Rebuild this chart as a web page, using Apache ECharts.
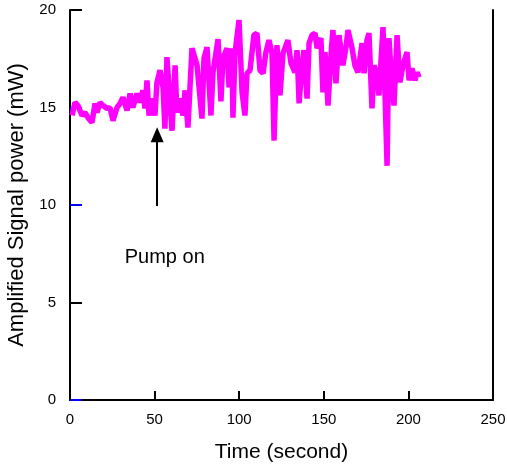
<!DOCTYPE html>
<html>
<head>
<meta charset="utf-8">
<script src="https://cdn.jsdelivr.net/npm/echarts@6/dist/echarts.min.js"></script>
<style>html,body{margin:0;padding:0;background:#fff}#c{width:507px;height:468px}</style>
</head>
<body>
<div id="c"></div>
<script>
var timeSec = [1.2,3.0,4.7,7.1,8.9,10.6,13.0,14.8,16.0,17.7,19.5,21.9,23.6,25.4,27.8,29.6,31.3,33.7,35.5,37.2,39.6,41.4,43.1,44.3,45.5,46.7,48.5,50.2,51.4,53.2,55.0,56.1,57.3,59.1,60.3,62.1,63.2,65.0,66.8,68.0,69.7,72.1,75.1,78.0,79.2,81.0,83.3,84.5,87.5,89.2,90.4,92.8,94.0,95.7,96.3,97.5,99.9,101.7,103.4,104.6,106.4,108.7,110.5,112.3,114.1,115.8,117.6,119.4,120.6,122.3,124.1,125.9,128.8,130.6,133.0,134.2,135.4,137.1,138.3,140.1,141.3,143.0,144.8,146.0,148.3,149.5,150.7,152.5,154.3,155.4,157.2,159.0,161.3,163.1,164.3,166.7,168.4,170.2,172.6,173.8,175.5,176.7,178.5,179.7,181.4,182.6,185.0,186.2,187.4,188.5,190.3,191.5,193.3,195.0,196.8,199.2,200.4,202.1,203.9,205.1,206.3];
var powerMW = [14.59,15.26,15.10,14.59,14.74,14.48,14.23,15.21,14.74,15.26,15.10,14.95,15.0,14.33,15.0,15.21,15.52,14.85,15.72,15.0,15.72,15.26,15.88,14.95,16.39,14.59,15.46,14.59,16.29,16.91,16.03,13.92,17.58,15.26,13.81,17.16,14.74,15.46,14.59,15.88,13.97,18.04,17.16,14.43,17.53,18.09,14.59,16.80,18.51,15.31,17.53,18.04,16.03,18.04,14.48,17.78,19.48,15.77,14.59,16.75,16.91,18.71,18.81,16.91,16.75,17.84,18.45,17.78,13.30,18.20,15.62,17.78,18.45,17.27,16.80,17.94,15.21,17.16,17.94,15.46,18.30,18.71,18.81,18.04,18.56,15.77,17.84,15.10,17.78,18.97,16.24,18.71,17.16,18.09,18.97,18.04,17.16,16.80,18.30,16.75,18.45,18.81,14.95,17.16,16.65,15.62,19.12,15.62,12.01,18.56,16.13,15.10,18.71,16.29,17.16,17.84,16.39,17.01,16.39,16.80,16.55];
var xTicks = [0,50,100,150,200,250];
var blackYTicks = [5,20];
var blueYTicks = [0,10,15];
var arrowFrom = [51.5, 9.95];
var arrowTo = [51.5, 13.6];
var labelPos = [56, 7.3];
var labelText = 'Pump on';

var data = timeSec.map(function(t,i){return [t, powerMW[i]];});
var font = 'Liberation Sans, Arial, sans-serif';
var chart = echarts.init(document.getElementById('c'));
chart.setOption({
  animation:false,
  backgroundColor:'#fff',
  grid:{left:70,right:14,top:10,bottom:68,containLabel:false,outerBoundsMode:'none'},
  xAxis:{
    type:'value',min:0,max:250,interval:50,
    name:'Time (second)',nameLocation:'middle',nameGap:42,
    nameTextStyle:{fontFamily:font,fontSize:21,color:'#000'},
    axisLine:{lineStyle:{color:'#000',width:2}},
    axisTick:{inside:true,length:9,lineStyle:{color:'#000',width:2}},
    axisLabel:{fontFamily:font,fontSize:15,color:'#000',margin:12},
    splitLine:{show:false}
  },
  yAxis:[{
    type:'value',min:0,max:20,interval:5,
    name:'Amplified Signal power (mW)',nameLocation:'middle',nameGap:41,
    nameTextStyle:{fontFamily:font,fontSize:22,color:'#000'},
    axisLine:{lineStyle:{color:'#000',width:2}},
    axisTick:{inside:true,length:12,customValues:blackYTicks,lineStyle:{color:'#000',width:2}},
    axisLabel:{fontFamily:font,fontSize:15,color:'#000',margin:14},
    splitLine:{show:false}
  },{
    type:'value',min:0,max:20,interval:5,position:'left',
    axisLine:{show:false},
    axisTick:{inside:true,length:12,customValues:blueYTicks,lineStyle:{color:'#0000ff',width:2}},
    axisLabel:{show:false},
    splitLine:{show:false}
  },{
    type:'value',min:0,max:20,interval:5,position:'right',
    axisLine:{show:true,lineStyle:{color:'#000',width:2}},
    axisTick:{show:false},axisLabel:{show:false},splitLine:{show:false}
  }],
  series:[{
    type:'line',data:data,showSymbol:false,
    lineStyle:{color:'#ff00ff',width:5.5},
    itemStyle:{color:'#ff00ff'},
    markLine:{
      silent:true,symbol:['none','triangle'],symbolSize:[13,15],
      lineStyle:{color:'#000',width:2,type:'solid'},
      label:{show:false},
      data:[[{coord:arrowFrom},{coord:arrowTo}]]
    },
    markPoint:{
      silent:true,symbol:'circle',symbolSize:1,itemStyle:{color:'rgba(0,0,0,0)'},
      label:{show:true,formatter:labelText,fontFamily:font,fontSize:20,color:'#000',position:'inside'},
      data:[{coord:labelPos}]
    }
  }]
});
</script>
</body>
</html>
